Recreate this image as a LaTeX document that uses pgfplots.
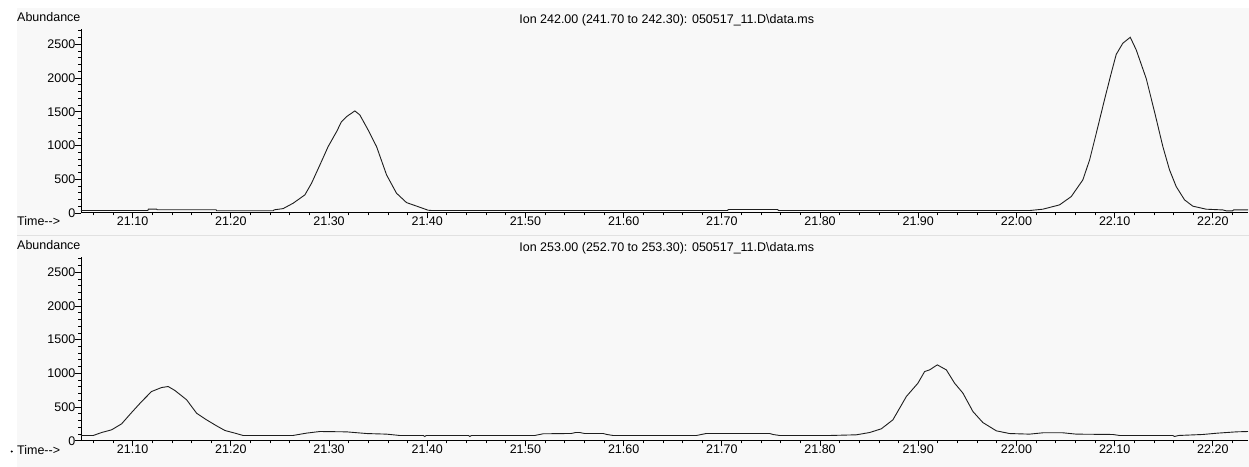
\documentclass[border=0pt]{standalone}
\usepackage{pgfplots}
\pgfplotsset{compat=1.18}
\usepackage{fontspec}
\setmainfont{Liberation Sans}
\definecolor{panelbg}{RGB}{248,248,248}
\definecolor{sepline}{RGB}{225,225,225}
\definecolor{trace}{RGB}{30,30,30}

\pgfplotstableread{
t v
21.0474 35
21.1155 35
21.1160 55
21.1244 55
21.1250 47
21.1850 47
21.1856 32
21.2431 32
21.2440 45
21.2533 64
21.2635 144
21.2754 267
21.2822 440
21.2907 711
21.2991 983
21.3077 1205
21.3127 1353
21.3178 1427
21.3263 1512
21.3314 1452
21.3398 1230
21.3484 983
21.3586 563
21.3687 292
21.3789 153
21.3924 84
21.4009 40
21.4050 35
21.7060 35
21.7065 50
21.7570 50
21.7575 35
22.0134 35
22.0269 55
22.0439 119
22.0558 242
22.0676 489
22.0745 785
22.0813 1181
22.0897 1680
22.0965 2070
22.1016 2350
22.1083 2515
22.1159 2604
22.1220 2416
22.1322 1990
22.1406 1500
22.1491 983
22.1559 637
22.1627 390
22.1712 193
22.1796 100
22.1932 55
22.2101 44
22.2140 30
22.2200 30
22.2210 44
22.2358 44
}\ionA

\pgfplotstableread{
t v
21.0474 79
21.0599 79
21.0684 123
21.0786 163
21.0888 252
21.0990 420
21.1092 583
21.1193 731
21.1295 790
21.1362 805
21.1431 746
21.1550 608
21.1651 410
21.1753 311
21.1855 222
21.1940 153
21.2041 114
21.2126 79
21.2632 79
21.2771 114
21.2907 138
21.3178 133
21.3382 108
21.3586 99
21.3721 79
21.3960 79
21.3975 64
21.3990 79
21.4420 79
21.4434 64
21.4450 79
21.5095 79
21.5180 104
21.5469 109
21.5510 123
21.5553 123
21.5600 109
21.5790 109
21.5830 94
21.5892 79
21.6741 79
21.6843 109
21.7487 109
21.7520 94
21.7589 79
21.8098 79
21.8370 89
21.8505 123
21.8624 178
21.8742 311
21.8879 657
21.8997 855
21.9065 1027
21.9116 1052
21.9194 1126
21.9286 1052
21.9370 855
21.9455 707
21.9557 434
21.9658 271
21.9795 148
21.9930 108
22.0134 99
22.0269 119
22.0473 119
22.0609 99
22.0982 94
22.1050 79
22.1592 79
22.1610 64
22.1650 79
22.1898 94
22.2050 114
22.2240 133
22.2358 138
}\ionB

\pgfplotsset{chrom/.style={
  scale only axis, width=1167.5bp, height=184bp,
  xmin=21.0474, xmax=22.2358, ymin=0, ymax=2727,
  axis lines*=left,
  axis line style={black, line width=0.9bp},
  xtick={21.1,21.2,21.3,21.4,21.5,21.6,21.7,21.8,21.9,22.0,22.1,22.2},
  xticklabels={21.10,21.20,21.30,21.40,21.50,21.60,21.70,21.80,21.90,22.00,22.10,22.20},
  minor xtick={21.06,21.08,21.12,21.14,21.16,21.18,21.22,21.24,21.26,21.28,21.32,21.34,21.36,21.38,21.42,21.44,21.46,21.48,21.52,21.54,21.56,21.58,21.62,21.64,21.66,21.68,21.72,21.74,21.76,21.78,21.82,21.84,21.86,21.88,21.92,21.94,21.96,21.98,22.02,22.04,22.06,22.08,22.12,22.14,22.16,22.18,22.22},
  ytick={0,500,1000,1500,2000,2500},
  yticklabels={0,500,1000,1500,2000,2500},
  minor ytick={100,200,300,400,600,700,800,900,1100,1200,1300,1400,1600,1700,1800,1900,2100,2200,2300,2400,2600,2700},
  tick align=outside,
  major tick length=5.5bp, minor tick length=2.5bp,
  every tick/.style={black, line width=0.8bp},
  xticklabel style={anchor=base, inner sep=0pt, yshift=-7bp},
  yticklabel style={anchor=east, inner sep=0pt},
  tick label style={font=\fontsize{12.5bp}{14bp}\selectfont},
}}

\begin{document}
\fontsize{12.5bp}{14bp}\selectfont
\begin{tikzpicture}[x=1bp,y=1bp]
\path (0,0) rectangle (1249,467);
\fill[panelbg] (17,232) rectangle (1249,459);
\fill[panelbg] (17,0) rectangle (1249,231);
\draw[sepline, line width=1bp] (17,231) -- (1249,231);

\begin{axis}[chrom, at={(81bp,254bp)}, anchor=south west]
\addplot[trace, line width=0.9bp] table[x=t, y=v] {\ionA};
\end{axis}

\begin{axis}[chrom, at={(81bp,26bp)}, anchor=south west]
\addplot[trace, line width=0.9bp] table[x=t, y=v] {\ionB};
\end{axis}

\node[anchor=base west, inner sep=0pt] at (17,445.3) {Abundance};
\node[anchor=base, inner sep=0pt] at (667,443.7) {Ion 242.00 (241.70 to 242.30): 050517\_11.D\textbackslash data.ms};
\node[anchor=base west, inner sep=0pt] at (17,241) {Time-{}-{}>};

\node[anchor=base west, inner sep=0pt] at (17,217.7) {Abundance};
\node[anchor=base, inner sep=0pt] at (667,215.3) {Ion 253.00 (252.70 to 253.30): 050517\_11.D\textbackslash data.ms};
\node[anchor=base west, inner sep=0pt] at (17,12) {Time-{}-{}>};
\fill (11.7,15.3) circle (1.1bp);
\end{tikzpicture}
\end{document}
